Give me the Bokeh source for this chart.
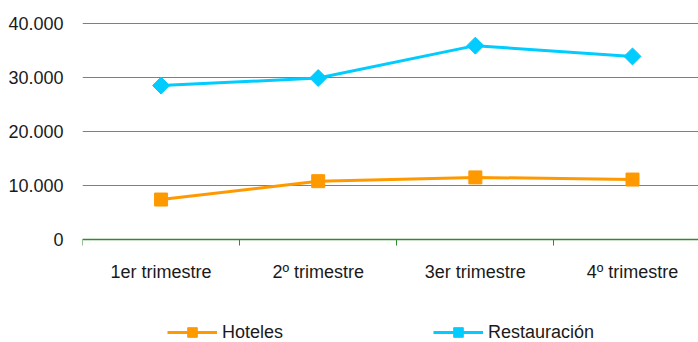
import math
from bokeh.plotting import figure
from bokeh.models import (Range1d, FixedTicker, Span, Legend, LegendItem,
                          ColumnDataSource, LinearAxis)
from bokeh.embed import file_html
from bokeh.resources import INLINE

# Quarterly figures
quarters = ["1er trimestre", "2º trimestre", "3er trimestre", "4º trimestre"]
hoteles = [7400, 10800, 11500, 11100]
restauracion = [28500, 29900, 35900, 33900]

y_ticks = [0, 10000, 20000, 30000, 40000]
y_tick_labels = ["0", "10.000", "20.000", "30.000", "40.000"]

FONT = "Liberation Sans"
ORANGE = "#FF9900"
CYAN = "#00CCFF"
TEXT = "#1a1a1a"

W, H = 698, 342
TOP, LEFT = 23, 82
PLOT_H = 216          # pixel height of the 0..40000 band
# the frame runs to the bottom edge so the legend can sit inside it
y_lo = -(H - TOP - PLOT_H) / PLOT_H * (y_ticks[-1] - y_ticks[0])

xs = list(range(len(quarters)))
src = ColumnDataSource(dict(x=xs, h=hoteles, r=restauracion))

p = figure(width=W, height=H, output_backend="svg", toolbar_location=None,
           x_range=Range1d(-0.5, 3.42), y_range=Range1d(y_lo, y_ticks[-1]),
           min_border_left=LEFT, min_border_right=0, min_border_top=TOP,
           min_border_bottom=0, x_axis_location=None)
p.outline_line_color = None
p.background_fill_color = "white"
p.border_fill_color = "white"

# horizontal gridlines, black line on top
p.xgrid.grid_line_color = None
p.ygrid.ticker = FixedTicker(ticks=y_ticks)
p.ygrid.grid_line_color = "#808080"
p.ygrid.grid_line_width = 1
p.add_layout(Span(location=y_ticks[-1], dimension="width",
                  line_color="black", line_width=1))

# y axis: labels only
p.yaxis.ticker = FixedTicker(ticks=y_ticks)
p.yaxis.major_label_overrides = dict(zip(y_ticks, y_tick_labels))
p.yaxis.axis_line_color = None
p.yaxis.major_tick_line_color = None
p.yaxis.minor_tick_line_color = None
p.yaxis.major_label_standoff = 13
p.yaxis.major_label_text_font = FONT
p.yaxis.major_label_text_font_size = "18px"
p.yaxis.major_label_text_color = TEXT

# x axis pinned at zero: green baseline with ticks between categories
xaxis = LinearAxis(fixed_location=0)
xaxis.ticker = FixedTicker(ticks=xs,
                           minor_ticks=[i - 0.5 for i in range(len(quarters) + 1)])
xaxis.major_label_overrides = dict(zip(xs, quarters))
xaxis.axis_line_color = "#2E8B2E"
xaxis.axis_line_width = 1.5
xaxis.major_tick_line_color = None
xaxis.minor_tick_line_color = "#2E8B2E"
xaxis.minor_tick_out = 6
xaxis.minor_tick_in = 0
xaxis.major_label_standoff = 16
xaxis.major_label_text_font = FONT
xaxis.major_label_text_font_size = "18px"
xaxis.major_label_text_color = TEXT
p.add_layout(xaxis, "below")

# series
lh = p.line("x", "h", source=src, line_color=ORANGE, line_width=3)
mh = p.scatter("x", "h", source=src, marker="square", size=13,
               fill_color=ORANGE, line_color=ORANGE)
lr = p.line("x", "r", source=src, line_color=CYAN, line_width=3)
mr = p.scatter("x", "r", source=src, marker="square", size=12,
               angle=math.pi / 4, fill_color=CYAN, line_color=CYAN)

legend = Legend(items=[LegendItem(label="Hoteles", renderers=[lh, mh]),
                       LegendItem(label="Restauración", renderers=[lr, mr])],
                orientation="horizontal", location=(85, -2),
                glyph_width=50, glyph_height=24, label_standoff=5,
                spacing=150, padding=0, margin=0,
                border_line_color=None, background_fill_alpha=0,
                label_text_font=FONT, label_text_font_size="18px",
                label_text_color=TEXT)
p.add_layout(legend, "center")

open("out.html", "w").write(file_html(p, INLINE))
